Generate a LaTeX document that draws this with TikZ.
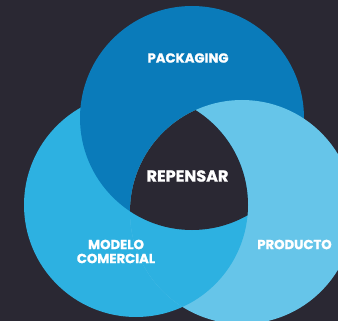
\documentclass[tikz,border=0pt]{standalone}
\usepackage{fontspec}
\setmainfont{Poppins}[BoldFeatures={FakeBold=1.2}]

\definecolor{fondo}{HTML}{2A2833}
\definecolor{azulpack}{HTML}{0A7BBA}
\definecolor{azulmod}{HTML}{2DB1E1}
\definecolor{azulprod}{HTML}{66C5E9}

\tikzset{
    etiqueta/.style={text=white,font=\bfseries\fontsize{13.2}{14}\selectfont,align=center,inner sep=0pt},
    centro/.style={etiqueta,font=\bfseries\fontsize{16}{18}\selectfont},
}
\newcommand{\radio}{112pt}

\begin{document}
\begin{tikzpicture}[x=1pt,y=-1pt]
        \useasboundingbox (0,0) rectangle (338,321);
        \fill[fondo] (0,0) rectangle (338,321);
        \clip (0,0) rectangle (338,321);

        %centros
        \coordinate (cpack) at (192,118);
        \coordinate (cmod) at (136,205);
        \coordinate (cprod) at (242,212);

        %circulos
        \fill[azulmod] (cmod) circle[radius=\radio];
        \fill[azulpack] (cpack) circle[radius=\radio];
        \fill[azulprod] (cprod) circle[radius=\radio];

        %modelo sobre producto
        \begin{scope}
            \clip (cprod) circle[radius=\radio];
            \fill[azulmod] (cmod) circle[radius=\radio];
        \end{scope}

        %centro vacio
        \begin{scope}
            \clip (cpack) circle[radius=\radio];
            \clip (cmod) circle[radius=\radio];
            \fill[fondo] (cprod) circle[radius=\radio];
        \end{scope}

        %textos
        \node[etiqueta] (packaging) at (188,58) {PACKAGING};
        \node[centro] (repensar) at (187.5,176) {REPENSAR};
        \node[etiqueta] (modelo) at (116,251.5) {MODELO\\COMERCIAL};
        \node[etiqueta] (producto) at (294.5,244.5) {PRODUCTO};
\end{tikzpicture}
\end{document}
